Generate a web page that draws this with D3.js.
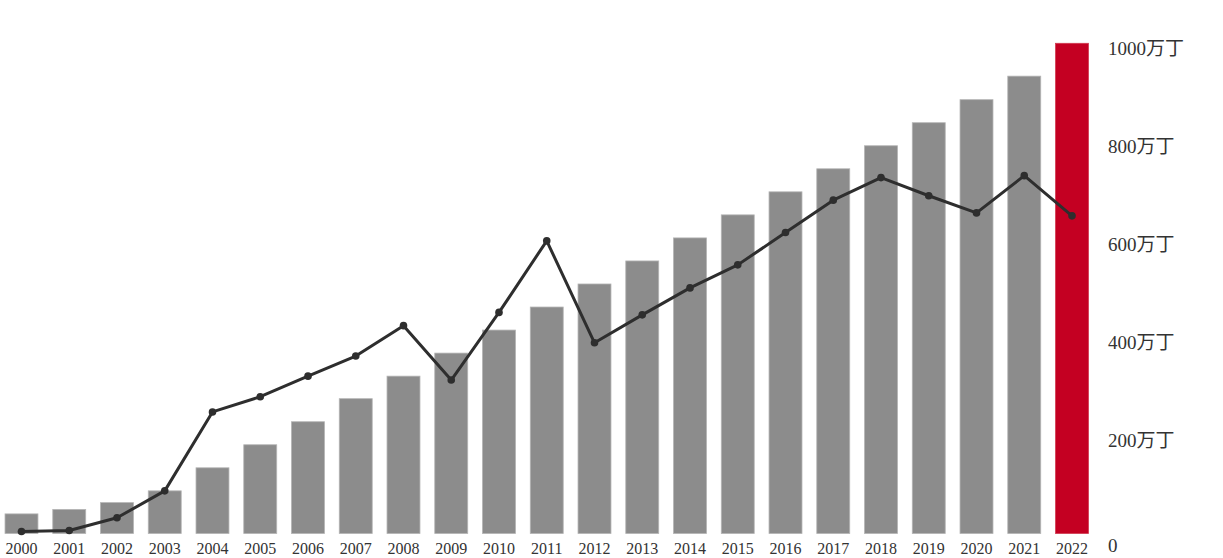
<!DOCTYPE html>
<html>
<head>
<meta charset="utf-8">
<script src="https://cdn.jsdelivr.net/npm/d3@7"></script>
<style>
  html, body { margin: 0; padding: 0; background: #fff; }
  svg { display: block; }
  text { font-family: "Liberation Serif", "Noto Sans CJK SC", serif; fill: #333; }
</style>
</head>
<body>
<svg id="chart" width="1223" height="558"></svg>
<script>
const years = ["2000","2001","2002","2003","2004","2005","2006","2007","2008","2009","2010","2011","2012","2013","2014","2015","2016","2017","2018","2019","2020","2021","2022"];
const barValues = [40,49,63,87,134,181,228,275,321,368,415,462,509,556,603,650,697,744,791,838,885,933,1000];
const lineValues = [4,6,32,87,248,279,321,362,424,313,451,597,389,446,501,548,614,680,726,689,654,730,648];
const yTicks = [0,200,400,600,800,1000];
const yTickLabels = ["0","200万丁","400万丁","600万丁","800万丁","1000万丁"];
const highlightYear = "2022";

const svg = d3.select("#chart");

const x = d3.scaleBand()
  .domain(years)
  .range([0, 1093.5])
  .paddingInner(0.31)
  .paddingOuter(0.105);

const y = d3.scaleLinear()
  .domain([0, 1000])
  .range([533.5, 43.3]);

// Bars
svg.append("g")
  .selectAll("rect")
  .data(years)
  .join("rect")
  .attr("x", d => x(d))
  .attr("width", x.bandwidth())
  .attr("y", (d, i) => y(barValues[i]))
  .attr("height", (d, i) => y(0) - y(barValues[i]))
  .attr("fill", d => d === highlightYear ? "#c40022" : "#8c8c8c")
  .attr("stroke", d => d === highlightYear ? "#d23a50" : "#b4b4b4")
  .attr("stroke-width", 0.8);

// Line
const line = d3.line()
  .x((d, i) => x(years[i]) + x.bandwidth() / 2)
  .y(d => y(d));

svg.append("path")
  .datum(lineValues)
  .attr("d", line)
  .attr("fill", "none")
  .attr("stroke", "#2e2e2e")
  .attr("stroke-width", 3)
  .attr("stroke-linejoin", "round");

svg.append("g")
  .selectAll("circle")
  .data(lineValues)
  .join("circle")
  .attr("cx", (d, i) => x(years[i]) + x.bandwidth() / 2)
  .attr("cy", d => y(d))
  .attr("r", 3.8)
  .attr("fill", "#2e2e2e");

// X axis labels
const xAxis = d3.axisBottom(x).tickSize(0).tickPadding(0);
const gx = svg.append("g")
  .attr("transform", `translate(0, ${y(0)})`)
  .call(xAxis);
gx.select(".domain").remove();
gx.selectAll("text")
  .attr("y", 20.5)
  .attr("dy", 0)
  .attr("font-size", 16)
  .attr("font-family", "Liberation Serif, Noto Sans CJK SC, serif")
  .attr("fill", "#333");

// Y axis labels (right)
const yAxis = d3.axisRight(y)
  .tickValues(yTicks)
  .tickSize(0)
  .tickPadding(0)
  .tickFormat((d, i) => yTickLabels[i]);
const gy = svg.append("g")
  .attr("transform", "translate(1108, 0)")
  .call(yAxis);
gy.select(".domain").remove();
gy.selectAll("text")
  .attr("x", 0)
  .attr("dy", d => d === 0 ? "0.95em" : "0.58em")
  .attr("font-size", 19)
  .attr("font-family", "Liberation Serif, Noto Sans CJK SC, serif")
  .attr("fill", "#333");
</script>
</body>
</html>
